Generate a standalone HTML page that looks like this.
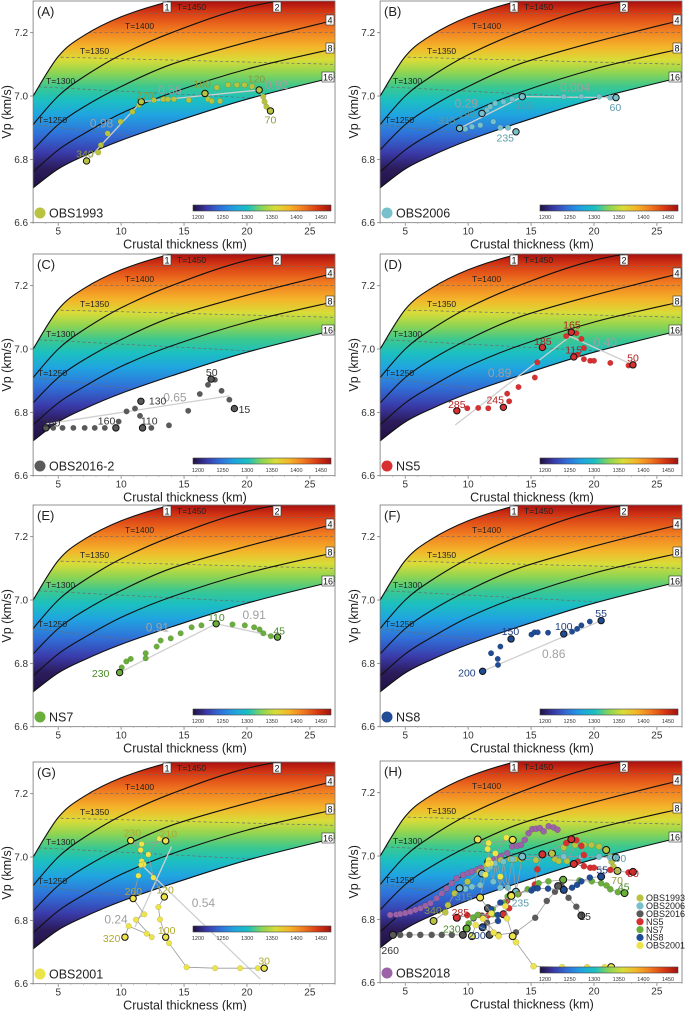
<!DOCTYPE html>
<html><head><meta charset="utf-8"><style>
html,body{margin:0;padding:0;background:#fff;}
svg{display:block;font-family:"Liberation Sans",Arial,sans-serif;}
</style></head><body>
<svg id="fig" width="685" height="1011" viewBox="0 0 685 1011" xmlns="http://www.w3.org/2000/svg">
<defs>
<linearGradient id="bandGrad" x1="0" y1="0" x2="0" y2="1">
<stop offset="0" stop-color="#a81010"/>
<stop offset="0.06" stop-color="#d83a14"/>
<stop offset="0.15" stop-color="#f07a20"/>
<stop offset="0.24" stop-color="#f4b42a"/>
<stop offset="0.31" stop-color="#d8dc38"/>
<stop offset="0.38" stop-color="#8cd454"/>
<stop offset="0.45" stop-color="#3cc88e"/>
<stop offset="0.52" stop-color="#1cc0c0"/>
<stop offset="0.60" stop-color="#20a4e0"/>
<stop offset="0.70" stop-color="#3070d8"/>
<stop offset="0.80" stop-color="#3a3aa8"/>
<stop offset="0.88" stop-color="#2c1c5c"/>
<stop offset="1" stop-color="#201040"/>
</linearGradient>
<linearGradient id="cbarGrad" x1="0" y1="0" x2="1" y2="0">
<stop offset="0" stop-color="#201040"/>
<stop offset="0.1" stop-color="#3a3aa8"/>
<stop offset="0.2" stop-color="#3070d8"/>
<stop offset="0.3" stop-color="#20a4e0"/>
<stop offset="0.4" stop-color="#1cc0c0"/>
<stop offset="0.5" stop-color="#8cd454"/>
<stop offset="0.6" stop-color="#d8dc38"/>
<stop offset="0.7" stop-color="#f4b42a"/>
<stop offset="0.8" stop-color="#f07a20"/>
<stop offset="0.9" stop-color="#d83a14"/>
<stop offset="1" stop-color="#a01010"/>
</linearGradient>
</defs>
</svg>
<script>
// ---------- data ----------
const curveX = [3,5,7,10,14,20,27];
const curve1 = [7.00,7.125,7.19,7.25,7.30,7.35,7.40];
const curve2 = [6.91,7.00,7.06,7.13,7.20,7.28,7.33];
const curve4 = [6.83,6.91,6.965,7.03,7.10,7.17,7.24];
const curve8 = [6.76,6.83,6.88,6.945,7.01,7.085,7.15];
const curve16 = [6.71,6.77,6.81,6.86,6.915,6.99,7.06];
const tempLabels = ["T=1450","T=1400","T=1350","T=1300","T=1250"];
const tempStart = [7.26,7.20,7.125,7.03,6.91];
const tempEnd = [7.26,7.20,7.10,6.98,6.80];
const xTicks = [5,10,15,20,25];
const yTicks = [6.6,6.8,7.0,7.2];
const cbarTicks = [1200,1250,1300,1350,1400,1450];

const obs1993X = [7.25,8.18,8.39,8.92,9.95,10.9,11.43,11.6,12.6,13.35,13.7,14.2,15.38,16.66,16.9,17.2,17.6,17.85,18.5,19.2,19.8,20.4,20.97,21.3,21.4,21.55,21.87];
const obs1993V = [6.795,6.822,6.845,6.882,6.919,6.95,6.972,6.982,6.987,6.99,6.99,6.99,6.987,7.008,6.99,6.984,7.027,6.984,7.035,7.035,7.035,7.03,7.019,6.998,6.982,6.966,6.953];
const obs1993Key = [0,7,13,22,26];

const obs2006X = [9.32,9.77,10.3,10.96,11.1,11.5,11.75,12.0,12.15,12.55,12.8,13.16,13.5,13.8,14.3,17.6,19.0,20.4,21.3,21.75];
const obs2006V = [6.898,6.896,6.903,6.908,6.945,6.956,6.966,6.919,6.977,6.9,6.982,6.9,6.99,6.887,6.998,6.998,6.998,6.998,6.995,6.995];
const obs2006Key = [0,4,13,14,19];

const obs2016X = [4.02,4.6,5.34,6.2,7.1,7.9,8.7,9.58,9.8,10.43,11.1,11.5,11.57,11.7,12.4,13.8,15.33,16.25,16.9,17.15,17.45,17.98,18.6,19.0];
const obs2016V = [6.751,6.751,6.751,6.751,6.751,6.751,6.751,6.751,6.771,6.803,6.812,6.789,6.835,6.751,6.751,6.759,6.805,6.858,6.887,6.905,6.903,6.868,6.84,6.812];
const obs2016Key = [0,7,12,13,19,23];

const ns5X = [9.1,9.93,10.8,11.6,12.8,13.26,13.1,14.0,15.3,15.5,15.9,17.8,18.2,18.6,19.0,19.2,18.7,18.4,19.2,19.7,20.0,21.3,22.75,23.1];
const ns5V = [6.805,6.813,6.814,6.813,6.816,6.835,6.859,6.88,6.91,6.958,7.005,7.041,7.053,7.05,7.032,7.003,6.982,6.975,6.968,6.963,6.963,6.956,6.948,6.95];
const ns5Key = [0,4,10,12,17,23];

const ns7X = [9.88,10.04,10.41,10.76,11.95,11.95,12.82,13.14,13.94,14.73,15.6,16.38,17.55,18.85,19.83,20.57,21.0,21.3,21.9,22.43];
const ns7V = [6.771,6.787,6.806,6.814,6.816,6.832,6.853,6.872,6.879,6.895,6.914,6.92,6.925,6.923,6.92,6.914,6.907,6.895,6.886,6.883];
const ns7Key = [0,12,19];

const ns8X = [11.15,12.37,12.35,11.82,12.56,13.41,15.03,15.27,15.53,16.35,17.6,18.26,18.66,19.0,19.67,20.57];
const ns8V = [6.775,6.795,6.814,6.832,6.853,6.877,6.891,6.898,6.898,6.897,6.893,6.9,6.909,6.92,6.932,6.935];
const ns8Key = [0,5,10,15];

const obs2001X = [21.37,20.86,19.46,17.47,15.2,13.8,13.54,13.09,12.96,13.43,12.56,12.16,13.04,13.54,11.63,10.76,11.55,11.63,11.8,11.58,11.37,10.95,11.84,11.18,12.43,12.03,10.6,10.3];
const obs2001V = [6.649,6.649,6.649,6.649,6.652,6.728,6.747,6.803,6.842,6.874,6.935,7.008,7.058,7.051,7.041,7.052,7.022,6.987,6.977,6.975,6.941,6.869,6.819,6.802,6.747,6.758,6.782,6.747];
const obs2001Key = [0,6,9,13,15,21,27];

const obs2018X = [3.8,4.3,4.6,5.0,5.4,5.8,6.2,6.6,7.0,7.5,7.9,8.3,8.7,9.1,9.6,10.0,10.3,10.7,11.0,11.5,12.0,12.3,12.6,13.1,13.5,13.9,14.2,14.5,14.8,15.1,15.4,15.7,16.0,16.4,16.8,17.1];
const obs2018V = [6.814,6.815,6.817,6.82,6.824,6.83,6.835,6.843,6.851,6.867,6.882,6.898,6.914,6.93,6.94,6.946,6.951,6.957,6.962,6.972,6.988,6.994,6.999,7.009,7.03,7.032,7.035,7.051,7.072,7.085,7.086,7.088,7.078,7.094,7.09,7.083];

// regression lines [x1,v1,x2,v2] and statistic labels
const linesA = [[7.25,6.795,11.6,6.982],[11.6,6.982,20.97,7.019],[20.97,7.019,21.87,6.953]];
const linesB = [[9.32,6.898,14.3,6.998],[14.3,6.998,21.75,6.995]];
const linesC = [[4,6.763,18.6,6.852]];
const linesD = [[8.97,6.76,18.1,7.04],[18.1,7.04,23.1,6.95]];
const linesE = [[9.88,6.771,17.55,6.925],[17.55,6.925,22.43,6.883]];
const linesF = [[11.15,6.775,20.57,6.935]];
const linesG = [[11.1,6.779,14.0,7.033],[11.5,6.98,21.05,6.615]];
const statsA = [["0.98",8.44,6.914],["0.56",13.87,7.019],["0.92",22.35,7.035]];
const statsB = [["0.29",9.85,6.977],["0.004",18.5,7.027]];
const statsC = [["0.65",14.27,6.847]];
const statsD = [["0.89",12.5,6.924],["0.40",20.9,7.021]];
const statsE = [["0.91",12.88,6.914],["0.91",20.57,6.953]];
const statsF = [["0.86",16.8,6.83]];
const statsG = [["0.24",9.59,6.803],["0.54",16.54,6.855]];
const distA = [["340",7.12,6.819],["270",11.9,7.003],["180",16.44,7.04],["120",20.76,7.056],["70",21.87,6.926]];
const distB = [["315",8.31,6.924],["195",9.9,6.945],["115",14.4,6.972],["235",12.95,6.869],["60",21.7,6.966]];
const distC = [["260",4.47,6.768],["160",8.84,6.774],["130",12.9,6.837],["110",12.23,6.774],["50",17.2,6.927],["15",19.8,6.81]];
const distD = [["285",9.1,6.827],["245",12.15,6.84],["185",15.94,7.026],["165",18.25,7.077],["115",18.38,6.998],["50",23.1,6.974]];
const distE = [["230",8.37,6.769],["110",17.57,6.946],["45",22.56,6.904]];
const distF = [["200",9.9,6.771],["150",13.36,6.902],["100",17.6,6.918],["55",20.57,6.959]];
const distG = [["230",10.89,7.078],["210",13.75,7.075],["260",10.97,6.892],["120",13.49,6.897],["320",9.24,6.745],["100",13.62,6.77],["30",21.37,6.673]];
const distH = [["340",7.2,6.83,"#8a9a3a"],["315",9.64,6.872,"#5a9aa8"],["235",14.15,6.853,"#5a9aa8"],["285",9.38,6.824,"#b02020"],["230",8.7,6.771,"#4a8a2a"],["200",10.7,6.75,"#1f3f80"],["260",3.8,6.703,"#333"],["15",19.3,6.81,"#333"],["60",22.1,6.993,"#5a9aa8"],["50",23.1,6.946,"#b02020"],["55",20.65,6.958,"#1f3f80"],["70",21.84,6.925,"#8a9a3a"],["45",22.37,6.903,"#4a8a2a"]];

// ---------- helpers ----------
const NS = "http://www.w3.org/2000/svg";
const svg = document.getElementById('fig');
function mk(tag, attrs, parent, text){
  const e = document.createElementNS(NS, tag);
  for (const k in attrs) e.setAttribute(k, attrs[k]);
  if (text !== undefined) e.textContent = text;
  parent.appendChild(e);
  return e;
}
const X0 = 33.1, XS = 12.58, Y0 = 222.7, YS = 316.7;
function sx(x){ return X0 + (x - 3) * XS; }
function sy(v){ return Y0 - (v - 6.6) * YS; }
function smoothPath(xs, vs){
  const p = xs.map((x,i)=>[sx(x), sy(vs[i])]);
  let d = "M" + p[0][0].toFixed(1) + "," + p[0][1].toFixed(1);
  for (let i=0;i<p.length-1;i++){
    const p0 = p[i-1]||p[i], p1=p[i], p2=p[i+1], p3=p[i+2]||p[i+1];
    const c1 = [p1[0]+(p2[0]-p0[0])/6, p1[1]+(p2[1]-p0[1])/6];
    const c2 = [p2[0]-(p3[0]-p1[0])/6, p2[1]-(p3[1]-p1[1])/6];
    d += " C"+c1[0].toFixed(1)+","+c1[1].toFixed(1)+" "+c2[0].toFixed(1)+","+c2[1].toFixed(1)+" "+p2[0].toFixed(1)+","+p2[1].toFixed(1);
  }
  return d;
}

const series = {
  OBS1993:{x:obs1993X,v:obs1993V,k:obs1993Key,fill:"#b8c440",lab:"#8a9a3a"},
  OBS2006:{x:obs2006X,v:obs2006V,k:obs2006Key,fill:"#78c0cc",lab:"#5a9aa8"},
  "OBS2016-2":{x:obs2016X,v:obs2016V,k:obs2016Key,fill:"#5a5a5a",lab:"#333"},
  NS5:{x:ns5X,v:ns5V,k:ns5Key,fill:"#d83030",lab:"#b02020"},
  NS7:{x:ns7X,v:ns7V,k:ns7Key,fill:"#6aae3c",lab:"#4a8a2a"},
  NS8:{x:ns8X,v:ns8V,k:ns8Key,fill:"#1f4c94",lab:"#1f3f80"},
  OBS2001:{x:obs2001X,v:obs2001V,k:obs2001Key,fill:"#ece44a",lab:"#b0a830"},
  OBS2018:{x:obs2018X,v:obs2018V,k:[],fill:"#9c62a8",lab:"#7a4a88"}
};

function drawBase(g, id, letter, cbarY){
  const cp = mk('clipPath',{id:'plot'+id}, g);
  mk('rect',{x:X0,y:1,width:sx(27)-X0,height:Y0-1}, cp);
  const cb = mk('clipPath',{id:'band'+id}, g);
  const up = smoothPath(curveX, curve1);
  const lowRev = smoothPath(curveX.slice().reverse(), curve16.slice().reverse());
  mk('path',{d: up + " L" + lowRev.slice(1) + " Z"}, cb);
  const plot = mk('g',{'clip-path':'url(#plot'+id+')'}, g);
  const band = mk('rect',{x:X0,y:sy(7.3),width:sx(27)-X0,height:sy(6.7)-sy(7.3),fill:'url(#bandGrad)','clip-path':'url(#band'+id+')'}, plot);
  
  
  const tg = mk('g',{'clip-path':'url(#band'+id+')'}, plot);
  for (let i=0;i<tempLabels.length;i++){
    const l = mk('line',{x1:sx(3),y1:sy(tempStart[i]),x2:sx(27),y2:sy(tempEnd[i]),stroke:'#6a6a6a','stroke-width':0.7,'stroke-dasharray':'3,2.5'}, tg);
    
    
  }
  const curves = [curve1,curve2,curve4,curve8,curve16];
  for (const c of curves){
    const p = mk('path',{d:smoothPath(curveX,c),fill:'none',stroke:'#111','stroke-width':1.1}, plot);
    
    
  }
  const tpos = [[177,10],[125,29],[80,54],[46,84],[38,123]];
  for (let i=0;i<tempLabels.length;i++){
    const t = mk('text',{x:tpos[i][0],y:tpos[i][1],'font-size':8.5,fill:'#222'}, g, tempLabels[i]);
    
    
  }
  const boxes = [["1",167,7],["2",277,7],["4",330,20],["8",330,48],["16",328,77]];
  for (const b of boxes){
    const w = b[0].length>1 ? 12 : 8;
    const r = mk('rect',{x:b[1]-w/2,y:b[2]-5,width:w,height:10,fill:'#fff',stroke:'#333','stroke-width':0.6}, g);
    
    
    const t = mk('text',{x:b[1],y:b[2]+3.3,'font-size':9,'text-anchor':'middle',fill:'#111'}, g, b[0]);
    
    
  }
  const fr = mk('rect',{x:X0,y:1,width:sx(27)-X0,height:Y0-1,fill:'none',stroke:'#777','stroke-width':0.8}, g);
  
  
  for (const t of xTicks){
    mk('line',{x1:sx(t),y1:Y0,x2:sx(t),y2:Y0+3,stroke:'#777','stroke-width':0.8}, g);
    const tx = mk('text',{x:sx(t),y:Y0+12,'font-size':10,'text-anchor':'middle',fill:'#333'}, g, String(t));
    
    
  }
  for (let x=3;x<=27;x++) mk('line',{x1:sx(x),y1:Y0,x2:sx(x),y2:Y0+1.5,stroke:'#999','stroke-width':0.5}, g);
  for (const t of yTicks){
    mk('line',{x1:X0-3,y1:sy(t),x2:X0,y2:sy(t),stroke:'#777','stroke-width':0.8}, g);
    const ty = mk('text',{x:X0-5,y:sy(t)+3.5,'font-size':10,'text-anchor':'end',fill:'#333'}, g, t.toFixed(1));
    
    
  }
  const xt = mk('text',{x:185,y:Y0+26,'font-size':12.5,'text-anchor':'middle',fill:'#222'}, g, 'Crustal thickness (km)');
  
  
  const yt = mk('text',{x:0,y:0,'font-size':12.5,'text-anchor':'middle',fill:'#222',transform:'translate(11,'+(sy(6.95))+') rotate(-90)'}, g, 'Vp (km/s)');
  
  
  const pl = mk('text',{x:37,y:16,'font-size':13,fill:'#222'}, g, '('+letter+')');
  
  
  const cbx0 = 193, cbx1 = 331;
  const cbar = mk('rect',{x:cbx0,y:cbarY,width:cbx1-cbx0,height:6,fill:'url(#cbarGrad)',stroke:'#444','stroke-width':0.6}, g);
  
  
  for (const t of cbarTicks){
    const xx = 198 + (t-1200)*0.492;
    const c = mk('text',{x:xx,y:cbarY+14,'font-size':5.5,'text-anchor':'middle',fill:'#333'}, g, String(t));
    
    
  }
  return plot;
}

function drawSeries(g, s, r, connect){
  if (connect){
    const d = s.x.map((x,i)=>(i?'L':'M')+sx(x).toFixed(1)+','+sy(s.v[i]).toFixed(1)).join(' ');
    const pl = mk('path',{d:d,fill:'none',stroke:'#9a9a9a','stroke-width':0.8}, g);
    
    
  }
  for (let i=0;i<s.x.length;i++){
    if (s.k.indexOf(i)>=0) continue;
    const c = mk('circle',{cx:sx(s.x[i]),cy:sy(s.v[i]),r:r,fill:s.fill,stroke:'rgba(0,0,0,0.25)','stroke-width':0.4}, g);
    
    
  }
  for (const i of s.k){
    const c = mk('circle',{cx:sx(s.x[i]),cy:sy(s.v[i]),r:r+0.4,fill:s.fill,stroke:'#111','stroke-width':1}, g);
    
    
  }
}

function drawLegend(g, name, s){
  const c = mk('circle',{cx:40,cy:213,r:5.5,fill:s.fill}, g);
  
  
  const t = mk('text',{x:49,y:217.5,'font-size':12.5,fill:'#222'}, g, name);
  
  
}

function drawPanel(ox, oy, id, letter, name, lines, stats, dists, cbarY){
  const g = mk('g',{transform:'translate('+ox+','+oy+')'}, svg);
  
  
  const plot = drawBase(g, id, letter, cbarY);
  const s = series[name];
  for (const l of lines){
    const ln = mk('line',{x1:sx(l[0]),y1:sy(l[1]),x2:sx(l[2]),y2:sy(l[3]),stroke:'#cfcfcf','stroke-width':1.3}, plot);
    
    
  }
  drawSeries(plot, s, 2.8, name==='OBS2001');
  for (const st of stats){
    const t = mk('text',{x:sx(st[1]),y:sy(st[2])+4,'font-size':12,'text-anchor':'middle',fill:'#a0a0a0'}, g, st[0]);
    
    
  }
  for (const d of dists){
    const t = mk('text',{x:sx(d[1]),y:sy(d[2])+4,'font-size':10.5,'text-anchor':'middle',fill:s.lab}, g, d[0]);
    
    
  }
  drawLegend(g, name, s);
}

drawPanel(0,0,'A','A','OBS1993',linesA,statsA,distA,205);
drawPanel(347,0,'B','B','OBS2006',linesB,statsB,distB,205);
drawPanel(0,253,'C','C','OBS2016-2',linesC,statsC,distC,205);
drawPanel(347,253,'D','D','NS5',linesD,statsD,distD,205);
drawPanel(0,504,'E','E','NS7',linesE,statsE,distE,205);
drawPanel(347,504,'F','F','NS8',linesF,statsF,distF,205);
drawPanel(0,761,'G','G','OBS2001',linesG,statsG,distG,165);

(function(){
  const g = mk('g',{transform:'translate(347,760)'}, svg);
  
  
  const plot = drawBase(g, 'H', 'H', 207);
  const order = ['OBS2018','OBS2016-2','OBS1993','OBS2006','NS5','NS7','NS8','OBS2001'];
  for (const n of order) drawSeries(plot, series[n], 3.1, true);
  for (const d of distH){
    const t = mk('text',{x:sx(d[1]),y:sy(d[2])+4,'font-size':10.5,'text-anchor':'middle',fill:d[3]}, g, d[0]);
    
    
  }
  const legendNames = ['OBS1993','OBS2006','OBS2016-2','NS5','NS7','NS8','OBS2001'];
  legendNames.forEach((n,i)=>{
    const y = 138 + i*7.9;
    const c = mk('circle',{cx:293,cy:y,r:3.6,fill:series[n].fill}, g);
    
    
    const t = mk('text',{x:299,y:y+3.2,'font-size':9,fill:'#222'}, g, n);
    
    
  });
  drawLegend(g, 'OBS2018', series.OBS2018);
})();
</script>
</body></html>
